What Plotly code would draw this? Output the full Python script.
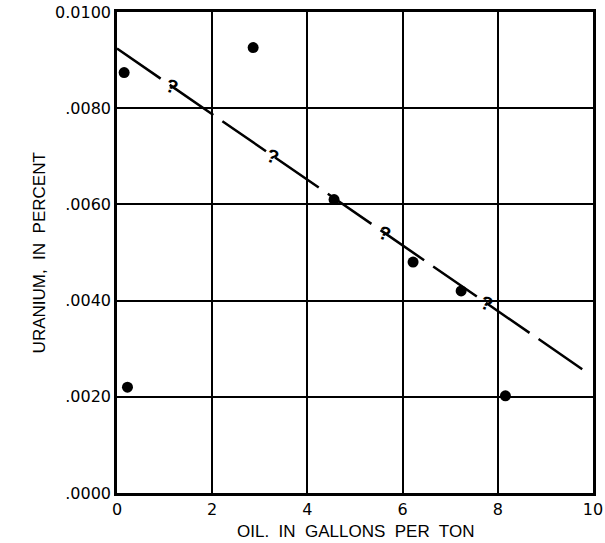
import plotly.graph_objects as go

# Oil yield vs. uranium content of samples
oil_gpt = [0.15, 0.22, 2.86, 4.56, 6.22, 7.23, 8.16]
uranium_pct = [0.00874, 0.00220, 0.00926, 0.00610, 0.00480, 0.00420, 0.00202]

# Trend line (dashed, uncertain)
trend_x = [0.0, 9.78]
trend_y = [0.00924, 0.00257]

# Question-mark positions along the trend line
query_x = [1.16, 3.28, 5.63, 7.77]

x_ticks = [0, 2, 4, 6, 8, 10]
x_tick_text = ["0", "2", "4", "6", "8", "10"]
y_ticks = [0.0, 0.002, 0.004, 0.006, 0.008, 0.010]
y_tick_text = [".0000", ".0020", ".0040", ".0060", ".0080", "0.0100"]

x_title = "OIL.\u00a0 IN\u00a0 GALLONS\u00a0 PER\u00a0 TON"
y_title = "URANIUM,\u00a0 IN\u00a0 PERCENT"

slope = (trend_y[1] - trend_y[0]) / (trend_x[1] - trend_x[0])


def on_trend(x):
    return trend_y[0] + slope * (x - trend_x[0])


fig = go.Figure()

fig.add_trace(go.Scatter(
    x=trend_x, y=trend_y, mode="lines",
    line=dict(color="black", width=2.5, dash="53px,11px"),
    hoverinfo="skip", showlegend=False,
))

fig.add_trace(go.Scatter(
    x=oil_gpt, y=uranium_pct, mode="markers",
    marker=dict(color="black", size=11, line=dict(width=0)),
    showlegend=False,
))

for qx in query_x:
    fig.add_annotation(
        x=qx, y=on_trend(qx), text="<b>?</b>", showarrow=False,
        font=dict(family="Liberation Sans", size=19, color="black"),
        textangle=20, xanchor="center", yanchor="middle",
    )

title_font = dict(family="Liberation Sans", size=17, color="black")
fig.add_annotation(
    xref="paper", yref="paper", x=0.5, y=-0.081, text=x_title,
    showarrow=False, xanchor="center", yanchor="middle", font=title_font,
)
fig.add_annotation(
    xref="paper", yref="paper", x=-0.162, y=0.5, text=y_title,
    showarrow=False, xanchor="center", yanchor="middle", textangle=-90,
    font=title_font,
)

axis_common = dict(
    showgrid=True, gridcolor="black", gridwidth=1.5,
    showline=True, linecolor="black", linewidth=2.5, mirror=True,
    zeroline=False, ticks="", automargin=False,
    tickfont=dict(family="DejaVu Sans", size=16, color="black"),
)

fig.update_xaxes(range=[0, 10], tickvals=x_ticks, ticktext=x_tick_text,
                 **axis_common)
fig.update_yaxes(range=[0, 0.010], tickvals=y_ticks, ticktext=y_tick_text,
                 **axis_common)

fig.update_layout(
    width=605, height=543,
    margin=dict(l=117, r=12, t=12, b=50),
    plot_bgcolor="white", paper_bgcolor="white",
    font=dict(family="Liberation Sans", color="black"),
)

fig.write_html("out.html")
